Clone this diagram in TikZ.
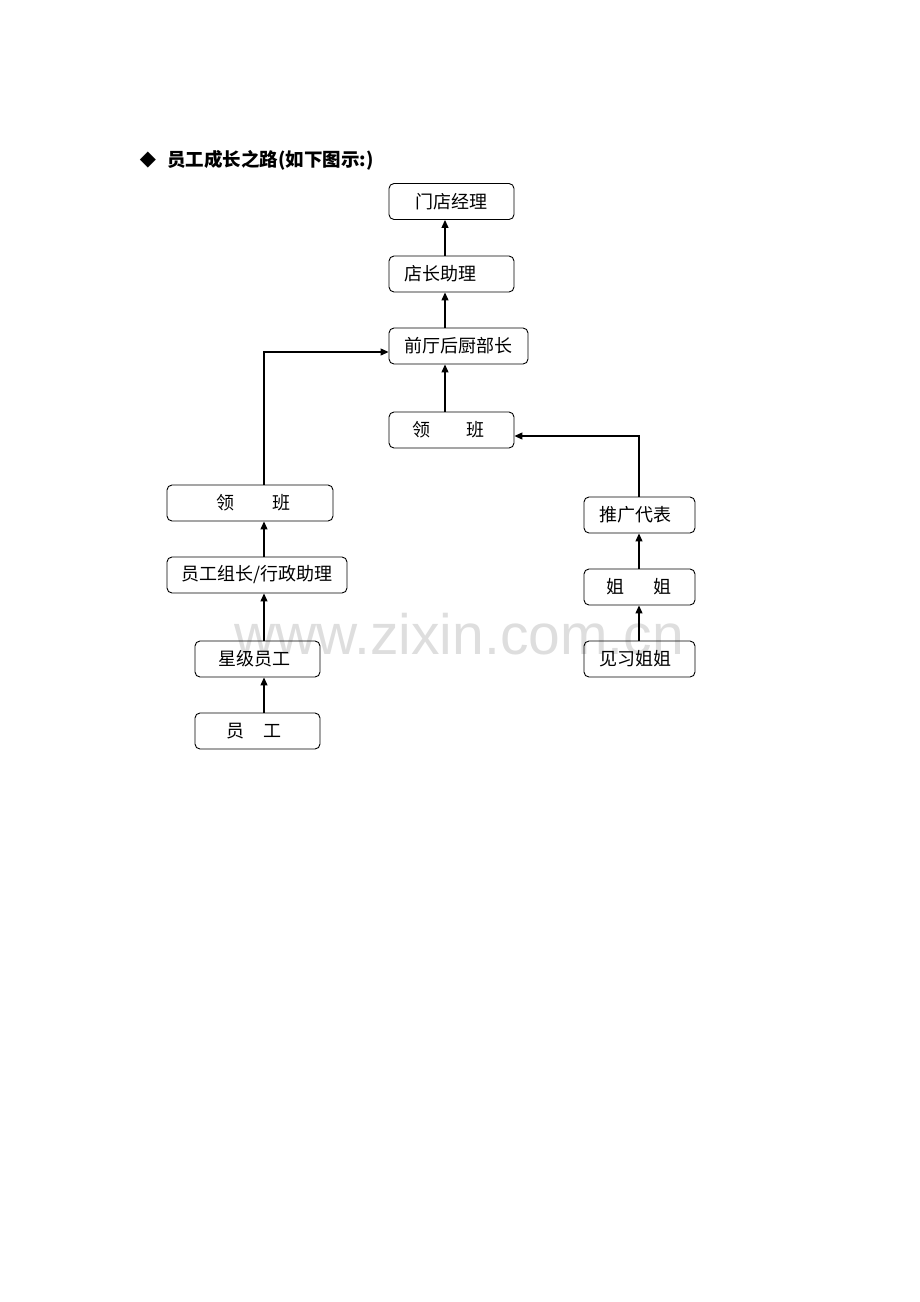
\documentclass[tikz,border=0pt]{standalone}
\usepackage{fontspec}
\usetikzlibrary{arrows.meta}
\newfontfamily\cjk{Noto Sans CJK SC}
\newfontfamily\dv{DejaVu Sans}
\newfontfamily\wm{Liberation Sans}
\begin{document}
\begin{tikzpicture}[x=1pt,y=-1pt,
  box/.style={draw,rounded corners=5pt,minimum height=36pt,inner sep=0pt,line width=0.9pt,
    font=\cjk\fontsize{18pt}{20pt}\selectfont},
  arr/.style={line width=1.2pt,-{Triangle[length=8pt,width=7pt]}}]
\useasboundingbox (0,0) rectangle (920,1302);
% watermark
\node[font=\wm\fontsize{57pt}{60pt}\selectfont,text=black!13] (wmk) at (459,634) {www.zixin.com.cn};
% title
\node[font=\dv\fontsize{21pt}{22pt}\selectfont,anchor=center,inner sep=0pt] (dia) at (148,160) {◆};
\node[anchor=west,inner sep=0pt,font=\cjk\bfseries\fontsize{18.5pt}{20pt}\selectfont] (title) at (167,160.5) {员工成长之路(如下图示:)};
% middle column
\node[box,minimum width=125pt] (m1) at (451.5,201.5) {\raisebox{-1.5pt}{门店经理}};
\node[box,minimum width=125pt] (m2) at (451.5,274) {\raisebox{-1.5pt}{店长助理}\hspace*{22pt}};
\node[box,minimum width=139pt] (m3) at (458.5,346) {\raisebox{-1.5pt}{前厅后厨部长}};
\node[box,minimum width=125pt] (r4) at (451.5,430) {\hspace*{-6pt}\raisebox{-1.5pt}{领\hspace{37pt}班}};
% left column
\node[box,minimum width=166pt] (l4) at (250,503) {\hspace*{7pt}\raisebox{-1.5pt}{领\hspace{38pt}班}};
\node[box,minimum width=180pt] (l3) at (257,575) {\raisebox{-1.5pt}{员工组长/行政助理}};
\node[box,minimum width=125pt] (l2) at (257.5,659) {\hspace*{-7pt}\raisebox{-1.5pt}{星级员工}};
\node[box,minimum width=125pt] (l1) at (257.5,731) {\hspace*{-7pt}\raisebox{-1.5pt}{员\hspace{20pt}工}};
% right column
\node[box,minimum width=111pt] (p3) at (639.5,515) {\raisebox{-1.5pt}{推广代表}\hspace*{8pt}};
\node[box,minimum width=111pt] (p2) at (639.5,587) {\hspace*{-2pt}\raisebox{-1.5pt}{姐\hspace{29pt}姐}};
\node[box,minimum width=111pt] (p1) at (639.5,659) {\raisebox{-1.5pt}{见习姐姐}\hspace*{8pt}};
% connector columns
\coordinate (cm) at (445,0);
\coordinate (cl) at (264,0);
\coordinate (cr) at (639,0);
\draw[arr] (m2.north -| cm) -- (m1.south -| cm);
\draw[arr] (m3.north -| cm) -- (m2.south -| cm);
\draw[arr] (r4.north -| cm) -- (m3.south -| cm);
\draw[arr] (l1.north -| cl) -- (l2.south -| cl);
\draw[arr] (l2.north -| cl) -- (l3.south -| cl);
\draw[arr] (l3.north -| cl) -- (l4.south -| cl);
\draw[arr] (l4.north -| cl) |- ([yshift=-6pt]m3.west);
\draw[arr] (p1.north -| cr) -- (p2.south -| cr);
\draw[arr] (p2.north -| cr) -- (p3.south -| cr);
\draw[arr] (p3.north -| cr) |- ([yshift=-6pt]r4.east);
\end{tikzpicture}
\end{document}
